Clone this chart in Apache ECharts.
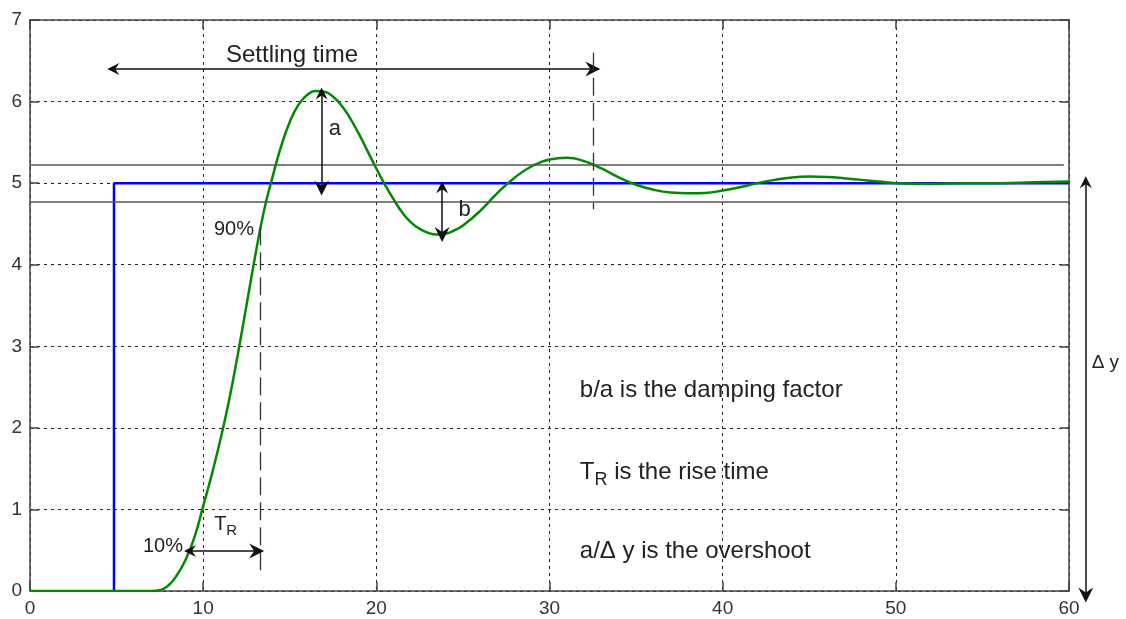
<!DOCTYPE html>
<html>
<head>
<meta charset="utf-8">
<script src="https://cdn.jsdelivr.net/npm/echarts@6/dist/echarts.min.js"></script>
<style>
html,body{margin:0;padding:0;background:#fff;}
#chart{width:1126px;height:619px;}
</style>
</head>
<body>
<div id="chart"></div>
<script>
// ---- data ----
const xTicks = [0, 10, 20, 30, 40, 50, 60];
const yTicks = [0, 1, 2, 3, 4, 5, 6, 7];
// input step (blue)
const stepT = [4.85, 4.85, 60];
const stepY = [0, 5, 5];
// process response (green)
const respT = [0, 1, 2, 3, 4, 5, 6, 7, 7.5, 8, 8.5, 9, 9.5, 10, 10.5, 11, 11.5, 12, 12.5, 13, 13.5, 14, 14.5, 15, 15.5, 16, 16.5, 17, 17.5, 18, 18.5, 19, 19.5, 20, 20.5, 21, 21.5, 22, 22.5, 23, 23.5, 24, 24.5, 25, 26, 27, 28, 29, 30, 31, 32, 33, 34, 35, 36, 37, 38, 39, 40, 41, 42, 43, 44, 45, 46, 47, 48, 49, 50, 52, 54, 56, 58, 60];
const respY = [0, 0, 0, 0, 0, 0, 0, 0, 0.01, 0.07, 0.2, 0.39, 0.66, 1.04, 1.43, 1.86, 2.34, 2.9, 3.5, 4.1, 4.65, 5.07, 5.45, 5.75, 5.96, 6.08, 6.13, 6.12, 6.06, 5.95, 5.79, 5.6, 5.39, 5.18, 4.98, 4.8, 4.64, 4.52, 4.44, 4.39, 4.37, 4.38, 4.42, 4.48, 4.66, 4.88, 5.07, 5.21, 5.29, 5.31, 5.27, 5.18, 5.07, 4.98, 4.92, 4.885, 4.875, 4.88, 4.91, 4.95, 5.0, 5.04, 5.07, 5.08, 5.075, 5.06, 5.04, 5.02, 5.0, 4.99, 5.0, 5.0, 5.01, 5.02];
// tolerance band
const bandUpper = 5.23;
const bandLower = 4.77;
const bandUpperEnd = 59.7;
// double arrows [from, to]
const arrows = [
  [[4.81, 6.4], [32.5, 6.4]],     // settling time
  [[16.84, 6.1], [16.84, 4.94]],  // a
  [[23.8, 4.95], [23.8, 4.37]],   // b
  [[9.24, 0.49], [13.09, 0.49]],  // T_R
  [[60.97, 5.01], [60.97, -0.05]] // delta y
];
// long-dashed marker lines [from, to]
const dashLines = [
  [[32.5, 6.6], [32.5, 4.68]],
  [[13.28, 4.46], [13.28, 0.22]]
];
// text annotations
const notes = [
  {pos: [15.13, 6.57], text: 'Settling time', align: 'center', size: 24},
  {pos: [17.6, 5.67], text: 'a', align: 'center', size: 22},
  {pos: [25.1, 4.67], text: 'b', align: 'center', size: 22},
  {pos: [11.78, 4.43], text: '90%', align: 'center', size: 20},
  {pos: [7.68, 0.54], text: '10%', align: 'center', size: 20},
  {pos: [11.3, 0.82], text: '{t|T}{s|R}', align: 'center', size: 20},
  {pos: [62.1, 2.8], text: 'Δ y', align: 'center', size: 19},
  {pos: [31.75, 2.46], text: 'b/a is the damping factor', align: 'left', size: 24},
  {pos: [31.75, 1.46], text: '{T|T}{S|R}{N| is the rise time}', align: 'left', size: 24},
  {pos: [31.75, 0.48], text: 'a/Δ y is the overshoot', align: 'left', size: 24}
];

// ---- chart ----
const FONT = 'Liberation Sans, Arial, sans-serif';
const TXT = '#222';
const chart = echarts.init(document.getElementById('chart'));
const arrowPath = 'path://M0,0 L6,15 L0,10 L-6,15 Z';

function axisCommon(showLabel, pos) {
  return {
    type: 'value',
    position: pos,
    axisLine: {show: true, onZero: false, lineStyle: {color: '#444', width: 1.5}},
    axisTick: {show: true, inside: true, length: 9, lineStyle: {color: '#444', width: 1.5}},
    axisLabel: {show: showLabel, color: '#333', fontFamily: FONT, fontSize: 19, margin: 8},
    splitLine: {show: false}
  };
}

const rich = {
  t: {fontSize: 20, fontFamily: FONT, color: TXT},
  s: {fontSize: 15, fontFamily: FONT, color: TXT, padding: [14, 0, 0, 0]},
  T: {fontSize: 24, fontFamily: FONT, color: TXT},
  S: {fontSize: 18, fontFamily: FONT, color: TXT, padding: [16, 0, 0, 0]},
  N: {fontSize: 24, fontFamily: FONT, color: TXT}
};

chart.setOption({
  animation: false,
  backgroundColor: '#fff',
  grid: {left: 30, right: 57, top: 20, bottom: 28, containLabel: false},
  xAxis: [
    Object.assign(axisCommon(true, 'bottom'), {
      min: 0, max: 60, interval: 10,
      axisLabel: {color: '#333', fontFamily: FONT, fontSize: 19, margin: 8,
        formatter: v => xTicks.includes(v) ? String(v) : ''},
      splitLine: {show: true, lineStyle: {color: '#222', type: [3, 4], width: 1}}
    }),
    Object.assign(axisCommon(false, 'top'), {min: 0, max: 60, interval: 10})
  ],
  yAxis: [
    Object.assign(axisCommon(true, 'left'), {
      min: 0, max: 7, interval: 1,
      axisLabel: {color: '#333', fontFamily: FONT, fontSize: 19, margin: 8,
        formatter: v => yTicks.includes(v) ? String(v) : ''},
      splitLine: {show: true, lineStyle: {color: '#222', type: [3, 4], width: 1}}
    }),
    Object.assign(axisCommon(false, 'right'), {min: 0, max: 7, interval: 1})
  ],
  series: [
    {
      type: 'line', name: 'band', symbol: 'none', silent: true,
      data: [], clip: false,
      markLine: {
        silent: true, symbol: ['none', 'none'], animation: false,
        label: {show: false},
        lineStyle: {color: '#555', width: 1.5, type: 'solid'},
        data: [
          [{coord: [0, bandUpper]}, {coord: [bandUpperEnd, bandUpper]}],
          [{coord: [0, bandLower]}, {coord: [60, bandLower]}]
        ]
      }
    },
    {
      type: 'line', name: 'input', symbol: 'none', z: 3,
      data: stepT.map((t, i) => [t, stepY[i]]),
      lineStyle: {color: '#0000ff', width: 2.5}
    },
    {
      type: 'line', name: 'response', symbol: 'none', smooth: 0.5, z: 4,
      data: respT.map((t, i) => [t, respY[i]]),
      lineStyle: {color: '#008a00', width: 2.5}
    },
    {
      type: 'lines', name: 'arrows', coordinateSystem: 'cartesian2d', clip: false, z: 5,
      silent: true,
      symbol: [arrowPath, arrowPath], symbolSize: [12, 15],
      lineStyle: {color: '#111', width: 1.5, opacity: 1, curveness: 0},
      data: arrows.map(a => ({coords: [a[0], a[1]]}))
    },
    {
      type: 'lines', name: 'dashes', coordinateSystem: 'cartesian2d', clip: false, z: 5,
      silent: true, symbol: ['none', 'none'],
      lineStyle: {color: '#333', width: 1.3, opacity: 1, type: [18, 7], curveness: 0},
      data: dashLines.map(d => ({coords: [d[0], d[1]]}))
    },
    {
      type: 'scatter', name: 'notes', symbolSize: 0, clip: false, z: 6, silent: true,
      itemStyle: {opacity: 1, color: 'transparent'},
      data: notes.map(n => ({
        value: n.pos,
        label: {
          show: true, position: 'inside', formatter: n.text,
          align: n.align, verticalAlign: 'middle', opacity: 1,
          color: TXT, fontFamily: FONT, fontSize: n.size, rich: rich
        }
      }))
    }
  ]
});
</script>
</body>
</html>
